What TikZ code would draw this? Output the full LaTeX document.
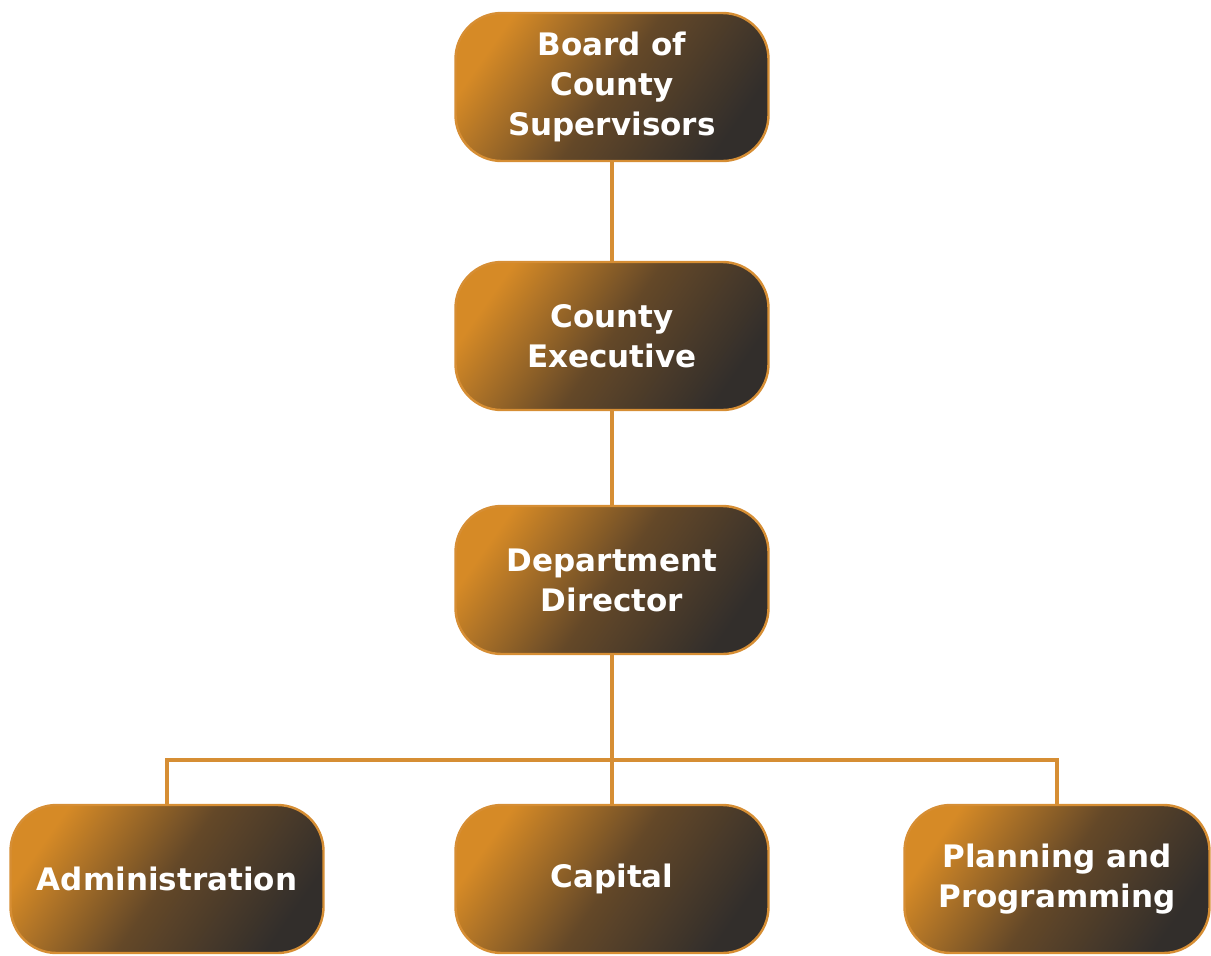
\documentclass[tikz,border=0pt]{standalone}
\usepackage{fontspec}
\setmainfont{DejaVu Sans}
\definecolor{orgA}{RGB}{214,138,38}
\definecolor{brnB}{RGB}{100,72,40}
\definecolor{drkC}{RGB}{50,46,43}
\definecolor{lineC}{RGB}{214,142,52}
\begin{document}
\begin{tikzpicture}[x=1pt,y=-1pt,
  box/.style={rounded corners=46pt, minimum width=313pt, minimum height=148pt,
    draw=lineC, line width=2.4pt, top color=orgA, bottom color=drkC, middle color=brnB,
    shading angle=55, text=white, align=center,
    font=\fontsize{31}{40}\selectfont\bfseries, inner sep=0pt},
  conn/.style={draw=lineC, line width=3.2pt}]
\useasboundingbox (0,0) rectangle (1211,956);
\node[box] (board) at (612,87) {Board of\\County\\Supervisors};
\node[box] (exec) at (612,336) {County\\Executive};
\node[box] (dir) at (612,580) {Department\\Director};
\node[box] (adm) at (167,879) {Administration};
\node[box] (cap) at (612,879) {Capital};
\node[box, minimum width=305pt] (plan) at (1057,879) {Planning and\\Programming};
\coordinate (bus) at (612,760);
\draw[conn] (board.south) -- (exec.north);
\draw[conn] (exec.south) -- (dir.north);
\draw[conn] (dir.south) -- (cap.north);
\draw[conn] (adm.north) |- (bus) -| (plan.north);
\end{tikzpicture}
\end{document}
